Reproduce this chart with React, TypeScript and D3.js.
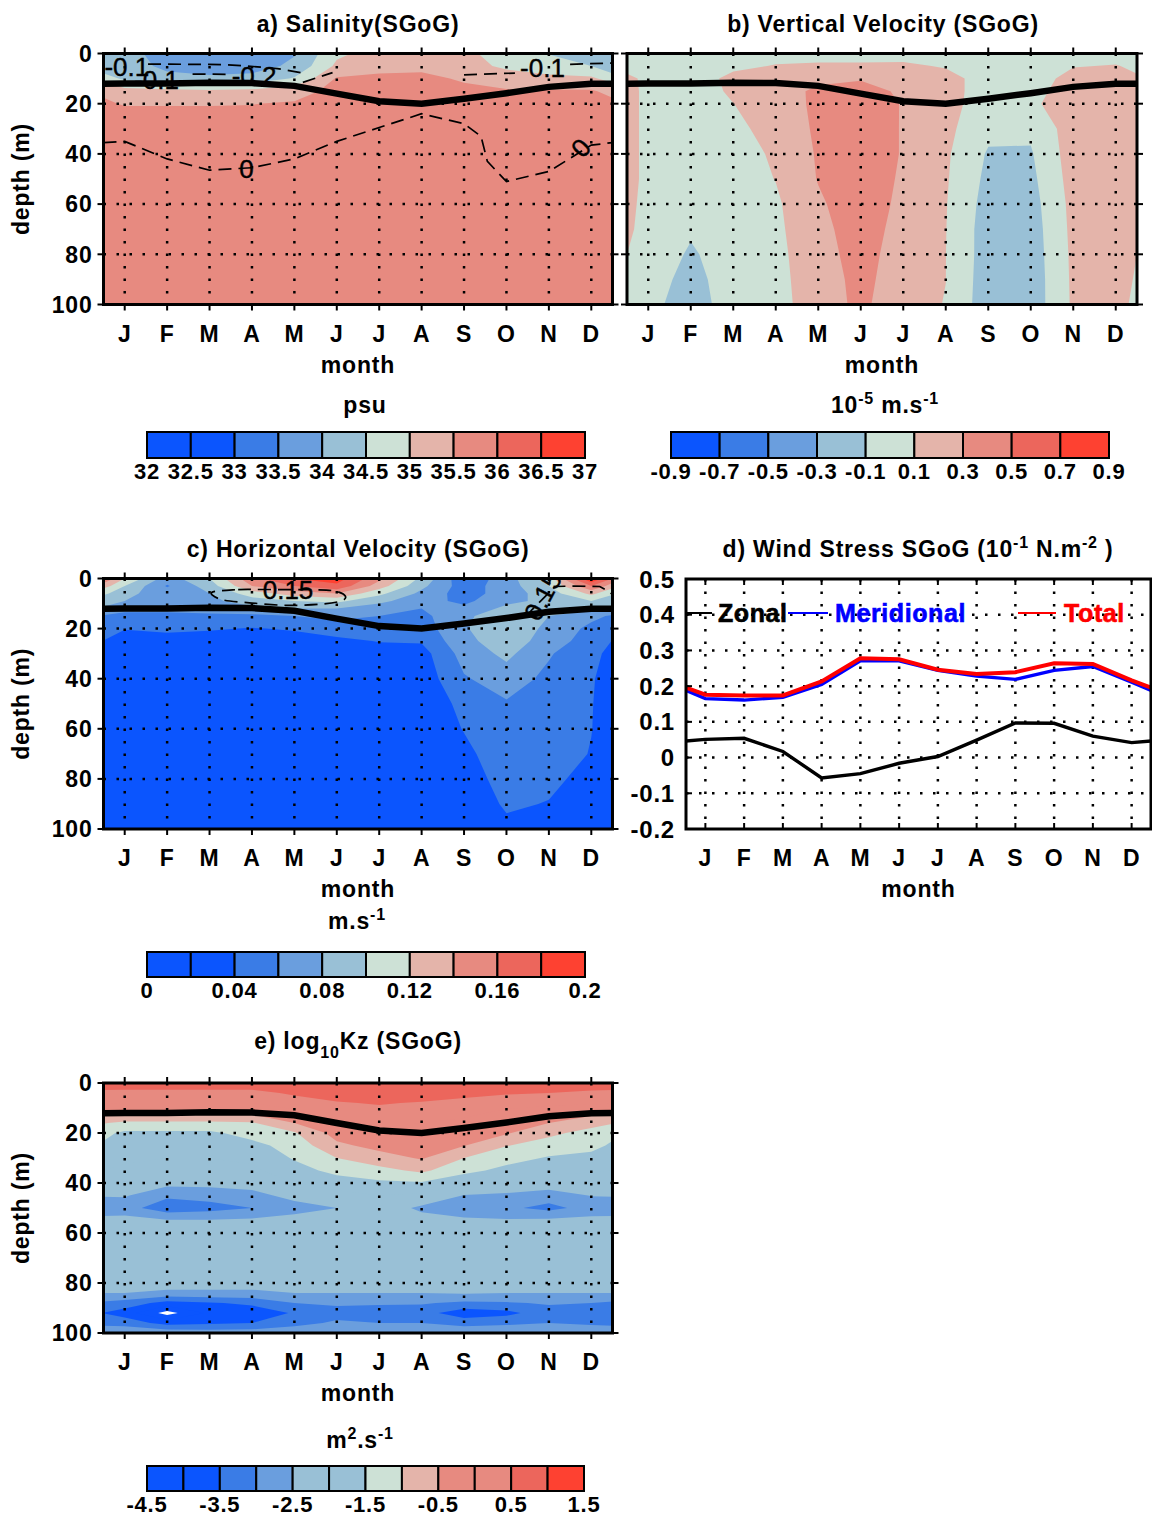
import * as d3 from "d3";

const FONT = "'Liberation Sans', Arial, Helvetica, sans-serif";

// ---- axes / labels ----
const months = [1, 2, 3, 4, 5, 6, 7, 8, 9, 10, 11, 12];
const monthLabels = ["J", "F", "M", "A", "M", "J", "J", "A", "S", "O", "N", "D"];
const depthTicks = [0, 20, 40, 60, 80, 100];
const depthGrid = [20, 40, 60, 80];
const windTicks = [0.5, 0.4, 0.3, 0.2, 0.1, 0, -0.1, -0.2];
const windTickLabels = ["0.5", "0.4", "0.3", "0.2", "0.1", "0", "-0.1", "-0.2"];
const windGrid = [0.4, 0.3, 0.2, 0.1, 0, -0.1];

// mixed layer depth (thick black line), J..D
const mixedLayerDepth = [12, 12, 11.7, 11.8, 12.9, 16, 19, 20, 18, 15.8, 13.3, 12.1];

// ---- a) salinity, one profile per month (J..D) ----
const salinityDepths = [0, 5, 10, 15, 20, 30, 60, 100];
const salinityProfiles = [
  [34.2, 34.3, 34.4, 35.2, 35.48, 35.7, 35.75, 35.8],
  [33.75, 33.85, 34.2, 35.15, 35.48, 35.7, 35.75, 35.8],
  [33.6, 33.75, 34.1, 35.1, 35.48, 35.7, 35.75, 35.8],
  [33.65, 33.8, 34.15, 35.15, 35.49, 35.7, 35.75, 35.8],
  [33.97, 34.1, 34.55, 35.3, 35.55, 35.72, 35.75, 35.8],
  [34.9, 35.1, 35.55, 35.65, 35.7, 35.75, 35.78, 35.8],
  [35.2, 35.35, 35.6, 35.7, 35.75, 35.78, 35.8, 35.8],
  [35.3, 35.4, 35.6, 35.7, 35.75, 35.78, 35.8, 35.8],
  [35.1, 35.2, 35.45, 35.6, 35.7, 35.75, 35.78, 35.8],
  [34.8, 34.9, 35.25, 35.55, 35.65, 35.72, 35.75, 35.8],
  [34.48, 34.7, 35.15, 35.55, 35.65, 35.72, 35.75, 35.8],
  [34.3, 34.5, 35.1, 35.55, 35.6, 35.7, 35.75, 35.8],
];
const salinityLevels = [32, 32.5, 33, 33.5, 34, 34.5, 35, 35.5, 36, 36.5];
const salinityTickLabels = ["32", "32.5", "33", "33.5", "34", "34.5", "35", "35.5", "36", "36.5", "37"];

// dashed contours drawn over panel a
const salZeroMonth = [0.5, 1, 2, 3, 4, 5, 6, 7, 8, 9, 9.4, 9.55, 10, 11, 12, 12.5];
const salZeroDepth = [35.5, 35, 42, 46.5, 45.5, 42, 35, 29.5, 24, 28, 33, 43, 51, 47, 36.5, 35.5];
const salUpperMonth = [1.55, 2.4, 3.3, 3.9, 4.6, 5.2];
const salUpperDepth = [4.2, 4.3, 4.4, 5.0, 6.0, 7.8];
const salLowerMonth = [2.6, 3.5];
const salLowerDepth = [8.2, 8.3];
const salHookMonth = [5.2, 5.9];
const salHookDepth = [11.5, 7.6];
const salRightMonth = [9.0, 10.2];
const salRightDepth = [8.5, 7.8];
const salRightEndMonth = [11.5, 12.5];
const salRightEndDepth = [4.3, 3.8];
const salLabelText = ["-0.1", "-0.1", "-0.2", "-0.1", "0", "0"];
const salLabelMonth = [1.05, 1.75, 4.05, 10.85, 3.87, 11.75];
const salLabelDepth = [5.2, 10.5, 8.8, 5.8, 46, 37.5];
const salLabelAngle = [0, 0, 0, 0, 0, -50];

// ---- b) vertical velocity (10^-5 m/s) ----
const wDepths = [0, 5, 10, 15, 20, 30, 40, 50, 60, 70, 80, 90, 100];
const wProfiles = [
  [0, 0.02, 0.04, 0.05, 0.05, 0.05, 0.05, 0.05, 0.04, 0.03, 0.0, -0.02, -0.04],
  [0, 0, 0, 0, 0, 0, -0.02, -0.03, -0.05, -0.08, -0.12, -0.16, -0.2],
  [0, 0.06, 0.15, 0.13, 0.098, 0.033, 0.01, 0.0, 0.0, -0.02, -0.02, -0.01, 0.0],
  [0.04, 0.11, 0.2, 0.2, 0.2, 0.2, 0.13, 0.105, 0.07, 0.06, 0.049, 0.045, 0.04],
  [0.0, 0.14, 0.25, 0.343, 0.34, 0.325, 0.32, 0.31, 0.27, 0.24, 0.22, 0.2, 0.19],
  [0.0, 0.14, 0.28, 0.4, 0.42, 0.44, 0.44, 0.43, 0.42, 0.4, 0.38, 0.36, 0.35],
  [0.02, 0.14, 0.22, 0.257, 0.287, 0.284, 0.284, 0.268, 0.249, 0.225, 0.202, 0.189, 0.15],
  [0.0, 0.08, 0.18, 0.18, 0.17, 0.15, 0.13, 0.12, 0.11, 0.105, 0.102, 0.101, 0.095],
  [0.0, 0.0, 0.0, 0.0, 0.0, -0.05, -0.12, -0.15, -0.18, -0.2, -0.2, -0.21, -0.22],
  [0.0, 0.0, 0.0, 0.03, 0.05, -0.06, -0.12, -0.15, -0.18, -0.2, -0.21, -0.22, -0.22],
  [0.02, 0.09, 0.17, 0.2, 0.25, 0.2, 0.2, 0.18, 0.16, 0.15, 0.14, 0.135, 0.13],
  [0.03, 0.11, 0.28, 0.28, 0.28, 0.28, 0.28, 0.28, 0.26, 0.24, 0.2, 0.18, 0.16],
];
const wLevels = [-0.9, -0.7, -0.5, -0.3, -0.1, 0.1, 0.3, 0.5, 0.7];
const wTickLabels = ["-0.9", "-0.7", "-0.5", "-0.3", "-0.1", "0.1", "0.3", "0.5", "0.7", "0.9"];

// ---- c) horizontal velocity (m/s) ----
const uDepths = [0, 3, 6, 9, 12, 15, 20, 25, 30, 40, 50, 60, 70, 80, 90, 100];
const uProfiles = [
  [0.12, 0.1, 0.085, 0.08, 0.07, 0.05, 0.041, 0.03, 0.025, 0.02, 0.02, 0.02, 0.02, 0.02, 0.02, 0.02],
  [0.07, 0.058, 0.07, 0.07, 0.065, 0.055, 0.045, 0.03, 0.025, 0.02, 0.02, 0.02, 0.02, 0.02, 0.02, 0.02],
  [0.1, 0.09, 0.08, 0.075, 0.07, 0.055, 0.042, 0.03, 0.025, 0.02, 0.02, 0.02, 0.02, 0.02, 0.02, 0.02],
  [0.155, 0.14, 0.11, 0.09, 0.075, 0.055, 0.039, 0.03, 0.025, 0.02, 0.02, 0.02, 0.02, 0.02, 0.02, 0.02],
  [0.18, 0.16, 0.13, 0.1, 0.08, 0.06, 0.042, 0.032, 0.025, 0.02, 0.02, 0.02, 0.02, 0.02, 0.02, 0.02],
  [0.19, 0.175, 0.14, 0.105, 0.08, 0.065, 0.05, 0.035, 0.028, 0.022, 0.02, 0.02, 0.02, 0.02, 0.02, 0.02],
  [0.145, 0.13, 0.105, 0.085, 0.07, 0.06, 0.05, 0.041, 0.03, 0.024, 0.022, 0.02, 0.02, 0.02, 0.02, 0.02],
  [0.095, 0.085, 0.075, 0.068, 0.06, 0.055, 0.05, 0.042, 0.032, 0.028, 0.025, 0.025, 0.024, 0.023, 0.022, 0.02],
  [0.045, 0.05, 0.05, 0.055, 0.065, 0.075, 0.078, 0.075, 0.068, 0.058, 0.046, 0.041, 0.035, 0.03, 0.025, 0.02],
  [0.07, 0.07, 0.07, 0.075, 0.085, 0.095, 0.095, 0.09, 0.085, 0.07, 0.058, 0.055, 0.052, 0.048, 0.043, 0.035],
  [0.11, 0.1, 0.09, 0.085, 0.08, 0.08, 0.075, 0.072, 0.062, 0.055, 0.052, 0.05, 0.05, 0.045, 0.039, 0.035],
  [0.2, 0.16, 0.125, 0.1, 0.085, 0.065, 0.055, 0.049, 0.045, 0.042, 0.041, 0.0405, 0.039, 0.033, 0.03, 0.028],
];
const uLevels = [0, 0.02, 0.04, 0.06, 0.08, 0.1, 0.12, 0.14, 0.16, 0.18];
const uTickLabels = ["0", "0.04", "0.08", "0.12", "0.16", "0.2"];
// dashed 0.15 contour drawn over panel c
const uLoopMonth = [4.25, 3.6, 3.05, 3.3, 4.0, 4.8, 5.6, 6.1, 6.2, 5.95, 5.45];
const uLoopDepth = [4.4, 4.5, 5.6, 8.5, 9.8, 10.7, 10.3, 9.0, 7.0, 5.0, 4.5];
const uRightMonth = [10.45, 10.6, 11.15, 11.6, 12.2, 12.45, 12.6];
const uRightDepth = [15.5, 12.5, 3.2, 3.0, 3.2, 5.5, 9];
const uLabelText = ["0.15", "0.15"];
const uLabelMonth = [4.85, 10.85];
const uLabelDepth = [4.6, 7];
const uLabelAngle = [0, -62];

// ---- d) wind stress (10^-1 N/m2) ----
const zonal = [0.051, 0.054, 0.017, -0.057, -0.045, -0.016, 0.003, 0.049, 0.097, 0.096, 0.06, 0.042];
const meridional = [0.165, 0.161, 0.169, 0.205, 0.271, 0.271, 0.244, 0.228, 0.219, 0.244, 0.255, 0.211];
const total = [0.176, 0.174, 0.174, 0.213, 0.278, 0.275, 0.246, 0.234, 0.239, 0.264, 0.262, 0.216];

// ---- e) log10 Kz ----
const kzDepths = [0, 4, 8, 12, 16, 20, 25, 30, 35, 40, 45, 50, 55, 60, 70, 80, 84, 88, 92, 96, 100];
const kzProfiles = [
  [0.8, 0.35, 0.0, -0.4, -1.1, -1.6, -1.8, -1.95, -2.05, -2.2, -2.45, -2.8, -2.3, -2.2, -2.2, -2.3, -2.5, -3.2, -3.75, -3.2, -2.6],
  [0.8, 0.35, 0.0, -0.4, -1.1, -1.6, -1.8, -2.0, -2.15, -2.35, -2.9, -3.3, -2.45, -2.2, -2.2, -2.3, -2.6, -3.7, -4.7, -3.7, -2.6],
  [0.8, 0.35, 0.0, -0.4, -1.1, -1.6, -1.8, -2.0, -2.15, -2.35, -2.8, -3.2, -2.45, -2.2, -2.2, -2.3, -2.6, -3.55, -3.9, -3.6, -2.7],
  [0.8, 0.35, 0.0, -0.4, -1.05, -1.3, -1.65, -1.9, -2.1, -2.3, -2.65, -3.0, -2.4, -2.2, -2.2, -2.3, -2.6, -3.4, -3.8, -3.5, -2.7],
  [0.85, 0.58, 0.25, -0.15, -0.5, -1.05, -1.3, -1.45, -1.7, -2.0, -2.35, -2.7, -2.3, -2.2, -2.2, -2.3, -2.5, -3.0, -3.45, -3.2, -2.6],
  [0.9, 0.8, 0.45, 0.2, -0.05, -0.3, -0.6, -1.0, -1.35, -1.75, -2.2, -2.5, -2.3, -2.2, -2.2, -2.3, -2.5, -2.9, -3.25, -2.9, -2.5],
  [0.9, 0.85, 0.55, 0.3, 0.1, -0.1, -0.35, -0.7, -1.15, -1.6, -2.0, -2.2, -2.2, -2.2, -2.2, -2.3, -2.5, -2.95, -3.2, -3.0, -2.5],
  [0.9, 0.85, 0.45, 0.2, 0.0, -0.15, -0.3, -0.45, -0.9, -1.55, -2.1, -2.6, -2.3, -2.2, -2.2, -2.3, -2.5, -2.95, -3.3, -3.0, -2.5],
  [0.9, 0.7, 0.3, 0.1, -0.1, -0.25, -0.48, -1.0, -1.35, -1.9, -2.52, -2.8, -2.4, -2.2, -2.2, -2.3, -2.45, -3.1, -3.8, -3.2, -2.6],
  [0.85, 0.56, 0.15, -0.1, -0.25, -0.45, -0.98, -1.3, -1.65, -2.1, -2.6, -2.9, -2.45, -2.2, -2.2, -2.3, -2.5, -3.05, -3.65, -3.1, -2.6],
  [0.8, 0.5, 0.1, -0.25, -0.5, -0.9, -1.2, -1.55, -1.9, -2.2, -2.75, -3.15, -2.4, -2.2, -2.2, -2.3, -2.5, -2.95, -3.2, -3.0, -2.6],
  [0.8, 0.4, 0.05, -0.35, -0.85, -1.15, -1.35, -1.65, -1.95, -2.25, -2.48, -2.8, -2.35, -2.2, -2.2, -2.3, -2.5, -3.0, -3.3, -3.1, -2.6],
];
const kzLevels = [-4.5, -4, -3.5, -3, -2.5, -2, -1.5, -1, -0.5, 0, 0.5, 1];
const kzTickLabels = ["-4.5", "-3.5", "-2.5", "-1.5", "-0.5", "0.5", "1.5"];

// ---- colours ----
const pal = ["#0b55fe", "#3a7ce6", "#6a9ede", "#99c0d6", "#cde1d6", "#e4b4aa", "#e78a80", "#ec665c", "#fe4131"];
const tenColors = [pal[0], pal[0], pal[1], pal[2], pal[3], pal[4], pal[5], pal[6], pal[7], pal[8]];
const kzColors = [pal[0], pal[0], pal[1], pal[2], pal[3], pal[3], pal[4], pal[5], pal[6], pal[6], pal[7], pal[8]];

type Box = { x: number; y: number; w: number; h: number };
const PA: Box = { x: 103.5, y: 53.5, w: 509, h: 251 };
const PB: Box = { x: 627, y: 53.5, w: 510, h: 251 };
const PC: Box = { x: 103.5, y: 578.5, w: 509, h: 250.5 };
const PE: Box = { x: 103.5, y: 1083, w: 509, h: 250 };
const PD: Box = { x: 686, y: 579, w: 465, h: 250 };

const txt = { fontFamily: FONT, fontWeight: 700, letterSpacing: 0.8 } as const;

function wrap(s: number[]) {
  return [s[s.length - 1], ...s, s[0]];
}

type Scale = d3.ScaleLinear<number, number>;

function ContourPanel(props: {
  id: string;
  box: Box;
  depths: number[];
  profiles: number[][];
  levels: number[];
  colors: string[];
  depthLabels: boolean;
  overlay?: (x: Scale, y: Scale) => any;
}) {
  const { id, box, depths, profiles, levels, colors, depthLabels, overlay } = props;
  const x = d3.scaleLinear().domain([0.5, 12.5]).range([box.x, box.x + box.w]);
  const y = d3.scaleLinear().domain([0, 100]).range([box.y, box.y + box.h]);
  const nr = depths.length;
  const values: number[] = [];
  for (let r = 0; r < nr; r++) values.push(...wrap(profiles.map((p) => p[r])));
  const gen = d3.contours().size([14, nr]);
  const depthAt = (gy: number) => {
    const t = Math.max(0, Math.min(nr - 1, gy - 0.5));
    const i = Math.min(nr - 2, Math.floor(t));
    return depths[i] + (t - i) * (depths[i + 1] - depths[i]);
  };
  const toPath = (geom: any) =>
    geom.coordinates
      .map((poly: number[][][]) =>
        poly
          .map(
            (ring) =>
              ring
                .map(([gx, gy], k) => `${k ? "L" : "M"}${x(gx - 0.5).toFixed(1)},${y(depthAt(gy)).toFixed(1)}`)
                .join("") + "Z"
          )
          .join("")
      )
      .join("");
  const ml = d3
    .line<number>()
    .x((_, i) => x(i))
    .y((d) => y(d));
  const bottom = box.y + box.h;
  const right = box.x + box.w;
  return (
    <g>
      <defs>
        <clipPath id={id}>
          <rect x={box.x} y={box.y} width={box.w} height={box.h} />
        </clipPath>
      </defs>
      <g clipPath={`url(#${id})`}>
        {levels.map((t, i) => (
          <path key={i} d={toPath(gen.contour(values, t))} fill={colors[i]} fillRule="evenodd" />
        ))}
        {months.map((m) => (
          <line key={"gv" + m} x1={x(m)} x2={x(m)} y1={box.y} y2={bottom} stroke="#000" strokeWidth={2.5} strokeDasharray="2.5 10" />
        ))}
        {depthGrid.map((d) => (
          <line key={"gh" + d} x1={box.x} x2={right} y1={y(d)} y2={y(d)} stroke="#000" strokeWidth={2.5} strokeDasharray="2.5 10.5" />
        ))}
        {overlay && overlay(x, y)}
        <path d={ml(wrap(mixedLayerDepth)) || ""} fill="none" stroke="#000" strokeWidth={6.5} />
      </g>
      <rect x={box.x} y={box.y} width={box.w} height={box.h} fill="none" stroke="#000" strokeWidth={3} />
      {months.map((m) => (
        <g key={"t" + m}>
          <line x1={x(m)} x2={x(m)} y1={bottom} y2={bottom + 6} stroke="#000" strokeWidth={2} />
          <line x1={x(m)} x2={x(m)} y1={box.y} y2={box.y - 6} stroke="#000" strokeWidth={2} />
        </g>
      ))}
      {depthTicks.map((d) => (
        <g key={"d" + d}>
          <line x1={box.x - 6} x2={box.x} y1={y(d)} y2={y(d)} stroke="#000" strokeWidth={2} />
          <line x1={right} x2={right + 6} y1={y(d)} y2={y(d)} stroke="#000" strokeWidth={2} />
          {depthLabels && (
            <text x={box.x - 11} y={y(d)} dy="0.36em" textAnchor="end" fontSize={23} {...txt}>
              {d}
            </text>
          )}
        </g>
      ))}
      {monthLabels.map((l, i) => (
        <text key={"m" + i} x={x(months[i])} y={bottom + 37} textAnchor="middle" fontSize={23} {...txt}>
          {l}
        </text>
      ))}
      <text x={box.x + box.w / 2} y={bottom + 68} textAnchor="middle" fontSize={23} {...txt}>
        month
      </text>
      {depthLabels && (
        <text transform={`translate(29,${box.y + box.h / 2}) rotate(-90)`} textAnchor="middle" fontSize={23} {...txt}>
          depth (m)
        </text>
      )}
    </g>
  );
}

function ColorBar(props: { x0: number; x1: number; y0: number; y1: number; colors: string[]; labels: string[]; every: number }) {
  const { x0, x1, y0, y1, colors, labels, every } = props;
  const sx = d3.scaleLinear().domain([0, colors.length]).range([x0, x1]);
  return (
    <g>
      {colors.map((c, i) => (
        <rect key={i} x={sx(i)} y={y0} width={sx(i + 1) - sx(i)} height={y1 - y0} fill={c} stroke="#000" strokeWidth={2} />
      ))}
      {labels.map((l, i) => (
        <text key={"l" + i} x={sx(i * every)} y={y1 + 21} textAnchor="middle" fontSize={22} {...txt}>
          {l}
        </text>
      ))}
    </g>
  );
}

function dashed(x: Scale, y: Scale, ms: number[], ds: number[], key: string, closed = false) {
  const line = d3
    .line<number>()
    .x((_, i) => x(ms[i]))
    .y((d) => y(d))
    .curve(closed ? d3.curveCardinalClosed : d3.curveLinear);
  return <path key={key} d={line(ds) || ""} fill="none" stroke="#000" strokeWidth={1.7} strokeDasharray="13 7" />;
}

function labelSet(x: Scale, y: Scale, t: string[], ms: number[], ds: number[], ang: number[]) {
  return t.map((s, i) => (
    <text
      key={"lab" + i}
      transform={`translate(${x(ms[i])},${y(ds[i])}) rotate(${ang[i]})`}
      dy="0.36em"
      textAnchor="middle"
      fontSize={26}
      fontFamily={FONT}
      stroke="#000"
      strokeWidth={0.4}
    >
      {s}
    </text>
  ));
}

function WindPanel() {
  const box = PD;
  const x = d3.scaleLinear().domain([0.5, 12.5]).range([box.x, box.x + box.w]);
  const y = d3.scaleLinear().domain([-0.2, 0.5]).range([box.y + box.h, box.y]);
  const line = d3
    .line<number>()
    .x((_, i) => x(i))
    .y((d) => y(d));
  const bottom = box.y + box.h;
  const right = box.x + box.w;
  const ly = 613;
  const leg = { fontSize: 25, fontFamily: FONT, fontWeight: 700, letterSpacing: 0.6, strokeWidth: 0.6 } as const;
  return (
    <g>
      <defs>
        <clipPath id="clipD">
          <rect x={box.x} y={box.y} width={box.w} height={box.h} />
        </clipPath>
      </defs>
      <g clipPath="url(#clipD)">
        {months.map((m) => (
          <line key={"gv" + m} x1={x(m)} x2={x(m)} y1={box.y} y2={bottom} stroke="#000" strokeWidth={2.5} strokeDasharray="2.5 10" />
        ))}
        {windGrid.map((v) => (
          <line key={"gh" + v} x1={box.x} x2={right} y1={y(v)} y2={y(v)} stroke="#000" strokeWidth={2.5} strokeDasharray="2.5 10.5" />
        ))}
        <path d={line(wrap(zonal)) || ""} fill="none" stroke="#000" strokeWidth={3.4} />
        <path d={line(wrap(meridional)) || ""} fill="none" stroke="#0000ff" strokeWidth={3.4} />
        <path d={line(wrap(total)) || ""} fill="none" stroke="#ff0000" strokeWidth={4} />
      </g>
      <rect x={box.x} y={box.y} width={box.w} height={box.h} fill="none" stroke="#000" strokeWidth={3} />
      {months.map((m) => (
        <g key={"t" + m}>
          <line x1={x(m)} x2={x(m)} y1={bottom} y2={bottom - 6} stroke="#000" strokeWidth={2} />
          <line x1={x(m)} x2={x(m)} y1={box.y} y2={box.y + 6} stroke="#000" strokeWidth={2} />
        </g>
      ))}
      {windTicks.map((v, i) => (
        <g key={"w" + i}>
          <line x1={box.x} x2={box.x + 6} y1={y(v)} y2={y(v)} stroke="#000" strokeWidth={2} />
          <text x={box.x - 11} y={y(v)} dy="0.36em" textAnchor="end" fontSize={24} {...txt}>
            {windTickLabels[i]}
          </text>
        </g>
      ))}
      {monthLabels.map((l, i) => (
        <text key={"m" + i} x={x(months[i])} y={bottom + 37} textAnchor="middle" fontSize={23} {...txt}>
          {l}
        </text>
      ))}
      <text x={box.x + box.w / 2} y={bottom + 68} textAnchor="middle" fontSize={23} {...txt}>
        month
      </text>
      {/* legend */}
      <line x1={box.x} x2={712} y1={ly} y2={ly} stroke="#000" strokeWidth={2} />
      <text x={718} y={ly + 9} {...leg} fill="#000" stroke="#000">
        Zonal
      </text>
      <line x1={788} x2={828} y1={ly} y2={ly} stroke="#0000ff" strokeWidth={2} />
      <text x={835} y={ly + 9} {...leg} fill="#0000ff" stroke="#0000ff">
        Meridional
      </text>
      <line x1={1018} x2={1056} y1={ly} y2={ly} stroke="#ff0000" strokeWidth={2} />
      <text x={1064} y={ly + 9} {...leg} fill="#ff0000" stroke="#ff0000">
        Total
      </text>
    </g>
  );
}

export default function App() {
  const sup = { fontSize: 16 };
  return (
    <svg width={1152} height={1517} style={{ position: "absolute", left: 0, top: 0, background: "#fff" }} fontFamily={FONT}>
      {/* titles */}
      <text x={358} y={32} textAnchor="middle" fontSize={23} {...txt}>
        a) Salinity(SGoG)
      </text>
      <text x={883} y={32} textAnchor="middle" fontSize={23} {...txt}>
        b) Vertical Velocity (SGoG)
      </text>
      <text x={358} y={557} textAnchor="middle" fontSize={23} {...txt}>
        c) Horizontal Velocity (SGoG)
      </text>
      <text x={918} y={557} textAnchor="middle" fontSize={23} {...txt}>
        d) Wind Stress SGoG (10
        <tspan dy={-9} {...sup}>
          -1
        </tspan>
        <tspan dy={9}> N.m</tspan>
        <tspan dy={-9} {...sup}>
          -2
        </tspan>
        <tspan dy={9}> )</tspan>
      </text>
      <text x={358} y={1049} textAnchor="middle" fontSize={23} {...txt}>
        e) log
        <tspan dy={9} {...sup}>
          10
        </tspan>
        <tspan dy={-9}>Kz (SGoG)</tspan>
      </text>

      <ContourPanel
        id="clipA"
        box={PA}
        depths={salinityDepths}
        profiles={salinityProfiles}
        levels={salinityLevels}
        colors={tenColors}
        depthLabels={true}
        overlay={(x, y) => (
          <g>
            {dashed(x, y, salZeroMonth, salZeroDepth, "z")}
            {dashed(x, y, salUpperMonth, salUpperDepth, "u")}
            {dashed(x, y, salLowerMonth, salLowerDepth, "lo")}
            {dashed(x, y, salHookMonth, salHookDepth, "h")}
            {dashed(x, y, salRightMonth, salRightDepth, "r")}
            {dashed(x, y, salRightEndMonth, salRightEndDepth, "re")}
            {labelSet(x, y, salLabelText, salLabelMonth, salLabelDepth, salLabelAngle)}
          </g>
        )}
      />
      <ContourPanel
        id="clipB"
        box={PB}
        depths={wDepths}
        profiles={wProfiles}
        levels={wLevels}
        colors={pal}
        depthLabels={false}
      />
      <ContourPanel
        id="clipC"
        box={PC}
        depths={uDepths}
        profiles={uProfiles}
        levels={uLevels}
        colors={tenColors}
        depthLabels={true}
        overlay={(x, y) => (
          <g>
            {dashed(x, y, uLoopMonth, uLoopDepth, "loop", true)}
            {dashed(x, y, uRightMonth, uRightDepth, "right")}
            {labelSet(x, y, uLabelText, uLabelMonth, uLabelDepth, uLabelAngle)}
          </g>
        )}
      />
      <WindPanel />
      <ContourPanel
        id="clipE"
        box={PE}
        depths={kzDepths}
        profiles={kzProfiles}
        levels={kzLevels}
        colors={kzColors}
        depthLabels={true}
      />

      {/* colour bars and units */}
      <text x={365} y={413} textAnchor="middle" fontSize={23} {...txt}>
        psu
      </text>
      <ColorBar x0={147} x1={585} y0={432} y1={458} colors={tenColors} labels={salinityTickLabels} every={1} />

      <text x={885} y={413} textAnchor="middle" fontSize={23} {...txt}>
        10
        <tspan dy={-9} {...sup}>
          -5
        </tspan>
        <tspan dy={9}> m.s</tspan>
        <tspan dy={-9} {...sup}>
          -1
        </tspan>
      </text>
      <ColorBar x0={671} x1={1109} y0={432} y1={458} colors={pal} labels={wTickLabels} every={1} />

      <text x={357} y={929} textAnchor="middle" fontSize={23} {...txt}>
        m.s
        <tspan dy={-9} {...sup}>
          -1
        </tspan>
      </text>
      <ColorBar x0={147} x1={585} y0={952} y1={977} colors={tenColors} labels={uTickLabels} every={2} />

      <text x={360} y={1448} textAnchor="middle" fontSize={23} {...txt}>
        m
        <tspan dy={-9} {...sup}>
          2
        </tspan>
        <tspan dy={9}>.s</tspan>
        <tspan dy={-9} {...sup}>
          -1
        </tspan>
      </text>
      <ColorBar x0={147} x1={584} y0={1466} y1={1491} colors={kzColors} labels={kzTickLabels} every={2} />
    </svg>
  );
}
